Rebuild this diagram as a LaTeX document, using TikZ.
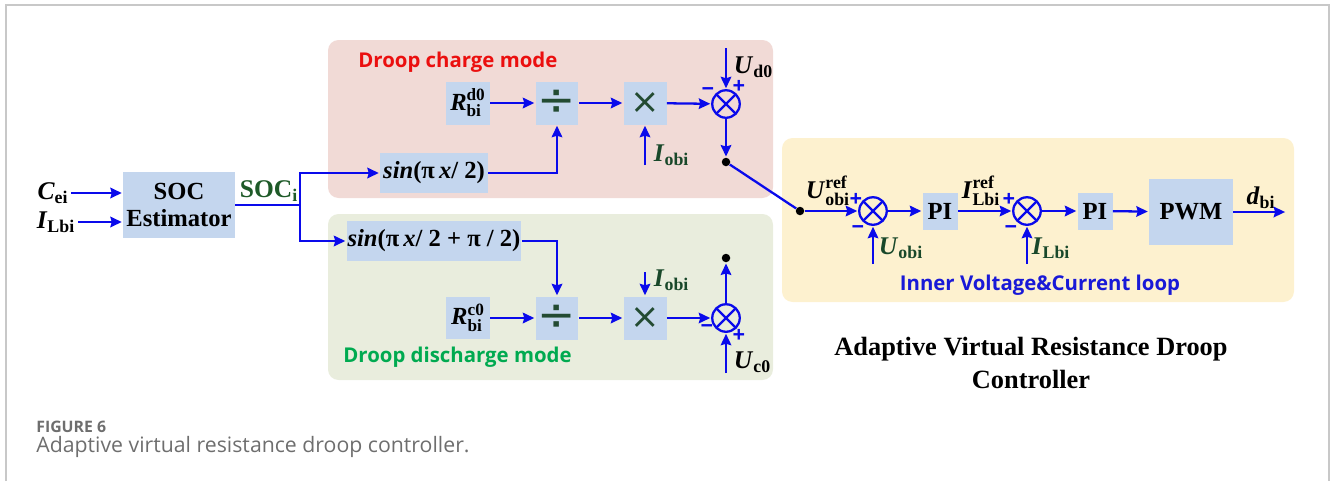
\documentclass[tikz,border=0pt]{standalone}
\usepackage{fontspec}
\usepackage{amsmath}
\setmainfont{Liberation Serif}
\newfontfamily\sansfont{Open Sans}
\newfontfamily\symfont{DejaVu Sans}
\usetikzlibrary{arrows.meta,positioning}

\definecolor{pinkbg}{RGB}{241,218,214}
\definecolor{greenbg}{RGB}{233,237,221}
\definecolor{yellowbg}{RGB}{253,241,207}
\definecolor{blkblue}{RGB}{196,214,238}
\definecolor{arrblue}{RGB}{10,10,235}
\definecolor{labgreen}{RGB}{25,72,42}
\definecolor{socgreen}{RGB}{30,90,40}
\definecolor{oprgreen}{RGB}{35,75,50}
\definecolor{modered}{RGB}{235,15,15}
\definecolor{modegreen}{RGB}{0,170,80}
\definecolor{modeblue}{RGB}{25,25,215}
\definecolor{capgray}{RGB}{110,110,110}
\definecolor{framegray}{RGB}{200,200,200}

\newcommand{\bfit}[1]{\textbf{\textit{#1}}}

\begin{document}
\begin{tikzpicture}[x=0.02cm, y=-0.02cm,
  blk/.style={rectangle, fill=blkblue, inner sep=0pt, align=center, font=\fontsize{14}{15.5}\selectfont\bfseries},
  opr/.style={rectangle, fill=blkblue, inner sep=0pt, minimum width=0.86cm, minimum height=0.86cm, text=oprgreen},
  lbl/.style={inner sep=1.5pt, font=\fontsize{14.5}{16}\selectfont},
  sarr/.style={-{Stealth[length=6.5pt,width=6pt,inset=0.8pt]}, line width=1.3pt, arrblue, shorten >=0.5pt},
  sline/.style={line width=1.3pt, arrblue},
  sumj/.style={circle, draw=arrblue, line width=1.3pt, minimum size=0.55cm, inner sep=0pt,
    path picture={\draw[arrblue, line width=1.3pt] (path picture bounding box.north west) -- (path picture bounding box.south east)
      (path picture bounding box.north east) -- (path picture bounding box.south west);}},
  jdot/.style={circle, fill=black, minimum size=0.17cm, inner sep=0pt},
  sgn/.style={inner sep=0pt, text=arrblue, font=\sansfont\bfseries\fontsize{12.5}{13}\selectfont},
  mode/.style={inner sep=0pt, anchor=west, font=\sansfont\bfseries\fontsize{11.6}{13}\selectfont},
]
  \useasboundingbox (0,0) rectangle (1330,481);

  % Frame
  \draw[framegray, line width=1pt] (6,481) -- (6,5) -- (1329,5) -- (1329,481);

  % Mode regions
  \fill[pinkbg, rounded corners=6pt] (328,40) rectangle (773,198);
  \fill[greenbg, rounded corners=6pt] (328,214) rectangle (773,380);
  \fill[yellowbg, rounded corners=6pt] (782,138) rectangle (1294,302);

  \node[mode, text=modered] (chgtxt) at (358,62) {Droop charge mode};
  \node[mode, text=modegreen] (dchtxt) at (343,357) {Droop discharge mode};
  \node[mode, anchor=center, text=modeblue] (looptxt) at (1040,285) {Inner Voltage\&Current loop};

  % SOC estimator
  \node[blk, minimum width=2.24cm, minimum height=1.32cm] (soc) at (179,205) {SOC\\Estimator};
  \node[lbl] (cei) at (53,193) {$\bfit{C}_{\textbf{ei}}$};
  \node[lbl] (ilin) at (56,222) {$\bfit{I}_{\textbf{Lbi}}$};
  \node[lbl, text=socgreen] (soci) at (269,191) {\textbf{SOC}\textsubscript{\textbf{i}}};
  \coordinate (br) at (300,205);

  % Charge path
  \node[blk, minimum width=0.88cm, minimum height=0.86cm] (rd) at (468,103) {$\bfit{R}^{\textbf{d0}}_{\textbf{bi}}$};
  \node[opr, font=\symfont\fontsize{26}{26}\selectfont] (div1) at (557,103) {÷};
  \node[opr, font=\symfont\fontsize{20}{20}\selectfont] (mul1) at (645,103) {×};
  \node[blk, minimum width=2.16cm, minimum height=0.8cm] (sin1) at (434,173) {\bfit{sin}(π\,\bfit{x}/ 2)};
  \node[sumj] (s1) at (726,104) {};
  \node[jdot] (d1) at (726,162) {};
  \coordinate (ud0) at (726,48);
  \coordinate (iob1) at (645,165);
  \node[lbl, anchor=west] (ud0l) at (731,67) {$\bfit{U}_{\textbf{d0}}$};
  \node[lbl, anchor=west, text=labgreen] (iob1l) at (651,155) {$\bfit{I}_{\textbf{obi}}$};
  \node[sgn] (s1m) at (708,92) {−};
  \node[sgn] (s1p) at (739,87) {+};

  % Discharge path
  \node[blk, minimum width=3.5cm, minimum height=0.8cm] (sin2) at (434,241) {\bfit{sin}(π\,\bfit{x}/ 2 + π / 2)};
  \node[blk, minimum width=0.88cm, minimum height=0.84cm] (rc) at (468,318) {$\bfit{R}^{\textbf{c0}}_{\textbf{bi}}$};
  \node[opr, font=\symfont\fontsize{26}{26}\selectfont] (div2) at (557,318) {÷};
  \node[opr, font=\symfont\fontsize{20}{20}\selectfont] (mul2) at (645,318) {×};
  \node[sumj] (s2) at (726,318) {};
  \node[jdot] (d2) at (726,258) {};
  \coordinate (uc0) at (726,373);
  \coordinate (iob2) at (645,272);
  \node[lbl, anchor=west] (uc0l) at (731,362) {$\bfit{U}_{\textbf{c0}}$};
  \node[lbl, anchor=west, text=labgreen] (iob2l) at (651,280) {$\bfit{I}_{\textbf{obi}}$};
  \node[sgn] (s2m) at (707,329) {−};
  \node[sgn] (s2p) at (739,336) {+};

  % Inner voltage & current loop
  \node[jdot] (d3) at (800,211) {};
  \node[sumj] (s3) at (873,211) {};
  \node[blk, minimum width=0.7cm, minimum height=0.74cm] (pi1) at (940,211) {PI};
  \node[sumj] (s4) at (1027,211) {};
  \node[blk, minimum width=0.7cm, minimum height=0.74cm] (pi2) at (1095,211) {PI};
  \node[blk, minimum width=1.68cm, minimum height=1.32cm] (pwm) at (1191,212) {PWM};
  \coordinate (dout) at (1286,212);
  \coordinate (uob) at (873,264);
  \coordinate (ilb) at (1027,264);
  \node[lbl] (urefl) at (828,191) {$\bfit{U}^{\textbf{ref}}_{\textbf{obi}}$};
  \node[lbl] (irefl) at (981,191) {$\bfit{I}^{\textbf{ref}}_{\textbf{Lbi}}$};
  \node[lbl] (dbil) at (1261,198) {$\bfit{d}_{\textbf{bi}}$};
  \node[lbl, anchor=west, text=labgreen] (uobl) at (876,248) {$\bfit{U}_{\textbf{obi}}$};
  \node[lbl, anchor=west, text=labgreen] (ilbl) at (1029,248) {$\bfit{I}_{\textbf{Lbi}}$};
  \node[sgn] (s3p) at (856,200) {+};
  \node[sgn] (s3m) at (858,230) {−};
  \node[sgn] (s4p) at (1009,200) {+};
  \node[sgn] (s4m) at (1011,230) {−};

  % Title and caption
  \node[align=center, font=\fontsize{15}{18.7}\selectfont\bfseries] (title) at (1031,363) {Adaptive Virtual Resistance Droop\\Controller};
  \node[anchor=west, inner sep=0pt, text=capgray, font=\sansfont\bfseries\fontsize{9}{10}\selectfont] (fig) at (36,427) {FIGURE 6};
  \node[anchor=west, inner sep=0pt, text=capgray, font=\sansfont\fontsize{12.1}{13}\selectfont] (cap) at (36,447) {Adaptive virtual resistance droop controller.};

  % Connectors: estimator
  \draw[sarr] (cei) -- (cei -| soc.west);
  \draw[sarr] (ilin) -- (ilin -| soc.west);
  \draw[sline] (soc.east) -- (br);
  \draw[sarr] (br) |- (sin1.west);
  \draw[sarr] (br) |- (sin2.west);

  % Connectors: charge
  \draw[sarr] (rd) -- (div1);
  \draw[sarr] (sin1.east) -| (div1.south);
  \draw[sarr] (div1) -- (mul1);
  \draw[sarr] (mul1) -- (s1);
  \draw[sarr] (iob1) -- (mul1.south);
  \draw[sarr] (ud0) -- (s1.north);
  \draw[sarr] (s1) -- (d1);
  \draw[sline] (d1) -- (d3);

  % Connectors: discharge
  \draw[sarr] (sin2.east) -| (div2.north);
  \draw[sarr] (rc) -- (div2);
  \draw[sarr] (div2) -- (mul2);
  \draw[sarr] (mul2) -- (s2);
  \draw[sarr] (iob2) -- (mul2.north);
  \draw[sarr] (uc0) -- (s2.south);
  \draw[sarr] (s2) -- (d2);

  % Connectors: inner loop
  \draw[sarr] (d3) -- (s3);
  \draw[sarr] (s3) -- (pi1);
  \draw[sarr] (pi1) -- (s4);
  \draw[sarr] (s4) -- (pi2);
  \draw[sarr] (pi2) -- (pwm);
  \draw[sarr] (pwm.east |- dout) -- (dout);
  \draw[sarr] (uob) -- (s3.south);
  \draw[sarr] (ilb) -- (s4.south);
\end{tikzpicture}
\end{document}
